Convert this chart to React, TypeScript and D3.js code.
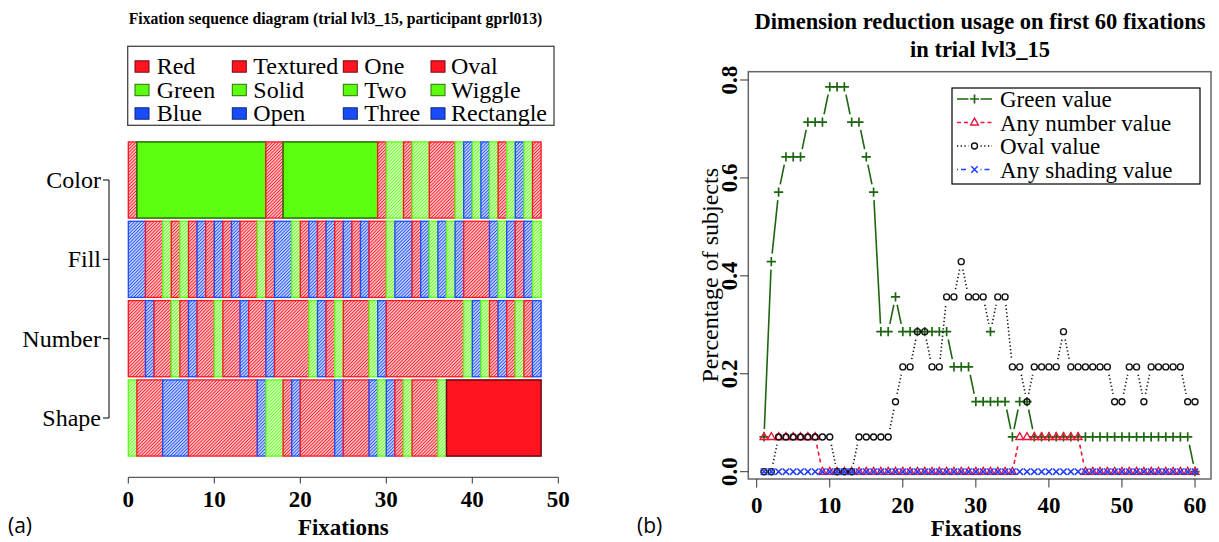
import React from "react";
import * as d3 from "d3";

// ---------- Left panel data: one code per fixation (lowercase = textured/hatched, uppercase = solid)
const rowNames = ["Color", "Fill", "Number", "Shape"];
const colorRow = "r GGGGGGGGGGGGGGG rr GGGGGGGGGGG r gg r gg rrr g b g b g r g b g r";
const fillRow = "bb rr g r g r b r b r b rr g r bb g r b r b r b r b rr g bb r b g b g b rrr b g b r b g";
const numberRow = "rr b rr g r b rr g rr b rr b rrrr g b r g rrr g b rrrrrrrrr g b g r b r g r b";
const shapeRow = "g rrr bbb rrrrrrrr b gg r b rrrr b rrr b g b r g rrr g RRRRRRRRRRR";
const sequenceRows = [colorRow, fillRow, numberRow, shapeRow];
const seqTicks = [0, 10, 20, 30, 40, 50];

const legendColumns = [
  ["Red", "Green", "Blue"],
  ["Textured", "Solid", "Open"],
  ["One", "Two", "Three"],
  ["Oval", "Wiggle", "Rectangle"],
];
const legendCodes = ["r", "g", "b"];

// ---------- Right panel data (share of subjects, fixations 1..60)
const fixTicks = [0, 10, 20, 30, 40, 50, 60];
const pctTicks = [0, 0.2, 0.4, 0.6, 0.8];
const greenValue = [
  0.071, 0.429, 0.571, 0.643, 0.643, 0.643, 0.714, 0.714, 0.714, 0.786,
  0.786, 0.786, 0.714, 0.714, 0.643, 0.571, 0.286, 0.286, 0.357, 0.286,
  0.286, 0.286, 0.286, 0.286, 0.286, 0.286, 0.214, 0.214, 0.214, 0.143,
  0.143, 0.143, 0.143, 0.143, 0.071, 0.143, 0.143, 0.071, 0.071, 0.071,
  0.071, 0.071, 0.071, 0.071, 0.071, 0.071, 0.071, 0.071, 0.071, 0.071,
  0.071, 0.071, 0.071, 0.071, 0.071, 0.071, 0.071, 0.071, 0.071, 0,
];
const numberValue = [
  0.071, 0.071, 0.071, 0.071, 0.071, 0.071, 0.071, 0.071, 0, 0,
  0, 0, 0, 0, 0, 0, 0, 0, 0, 0,
  0, 0, 0, 0, 0, 0, 0, 0, 0, 0,
  0, 0, 0, 0, 0, 0.071, 0.071, 0.071, 0.071, 0.071,
  0.071, 0.071, 0.071, 0.071, 0, 0, 0, 0, 0, 0,
  0, 0, 0, 0, 0, 0, 0, 0, 0, 0,
];
const ovalValue = [
  0, 0, 0.071, 0.071, 0.071, 0.071, 0.071, 0.071, 0.071, 0.071,
  0, 0, 0, 0.071, 0.071, 0.071, 0.071, 0.071, 0.143, 0.214,
  0.214, 0.286, 0.286, 0.214, 0.214, 0.357, 0.357, 0.429, 0.357, 0.357,
  0.357, 0.286, 0.357, 0.357, 0.214, 0.214, 0.143, 0.214, 0.214, 0.214,
  0.214, 0.286, 0.214, 0.214, 0.214, 0.214, 0.214, 0.214, 0.143, 0.143,
  0.214, 0.214, 0.143, 0.214, 0.214, 0.214, 0.214, 0.214, 0.143, 0.143,
];
const ovalPlusMarkerAt = [32];
const shadingValue = [
  0, 0, 0, 0, 0, 0, 0, 0, 0, 0,
  0, 0, 0, 0, 0, 0, 0, 0, 0, 0,
  0, 0, 0, 0, 0, 0, 0, 0, 0, 0,
  0, 0, 0, 0, 0, 0, 0, 0, 0, 0,
  0, 0, 0, 0, 0, 0, 0, 0, 0, 0,
  0, 0, 0, 0, 0, 0, 0, 0, 0, 0,
];
const seriesLabels = ["Green value", "Any number value", "Oval value", "Any shading value"];

// ---------- styles
const PAL: Record<string, string> = { r: "#ff1420", g: "#5cff10", b: "#1a4cff" };
const SERIF = "'Liberation Serif', 'Times New Roman', serif";
const SERIES = [
  { values: greenValue, color: "#1d6610", dash: "none", marker: "plus" },
  { values: numberValue, color: "#e8173a", dash: "4,3", marker: "tri" },
  { values: ovalValue, color: "#111111", dash: "1.3,2.4", marker: "circle" },
  { values: shadingValue, color: "#1f3cff", dash: "1,3,5,3", marker: "x" },
];

function runs(str: string) {
  const codes = str.replace(/ /g, "").split("");
  const out: { start: number; end: number; code: string }[] = [];
  codes.forEach((c, i) => {
    const last = out[out.length - 1];
    if (last && last.code === c) last.end = i + 1;
    else out.push({ start: i, end: i + 1, code: c });
  });
  return out;
}

function Marker({ type, x, y, color }: { type: string; x: number; y: number; color: string }) {
  const t = `translate(${x},${y})`;
  if (type === "plus")
    return <path transform={t} d="M-4.6,0H4.6M0,-4.6V4.6" stroke={color} strokeWidth={1.7} fill="none" />;
  if (type === "tri")
    return <path transform={t} d="M0,-4.3L3.9,2.5L-3.9,2.5Z" stroke={color} strokeWidth={1.4} fill="none" />;
  if (type === "circle")
    return <circle transform={t} r={3} stroke={color} strokeWidth={1.4} fill="none" />;
  return <path transform={t} d="M-3.2,-3.2L3.2,3.2M-3.2,3.2L3.2,-3.2" stroke={color} strokeWidth={1.5} fill="none" />;
}

export default function App() {
  // left panel scales
  const xL = d3.scaleLinear().domain([0, 50]).range([128.3, 558.3]);
  const yL = d3.scaleLinear().domain([1, 4]).range([418, 180]);
  const rowPos = [4, 3, 2, 1];
  const halfH = 0.48 * (yL(1) - yL(2));

  // right panel scales
  const xR = d3.scaleLinear().domain([0, 60]).range([756.7, 1195]);
  const yR = d3.scaleLinear().domain([0, 0.8]).range([471.7, 80]);
  const gap = 8;

  const segPath = (vals: number[]) => {
    let d = "";
    for (let i = 0; i < vals.length - 1; i++) {
      const x1 = xR(i + 1), y1 = yR(vals[i]), x2 = xR(i + 2), y2 = yR(vals[i + 1]);
      const dx = x2 - x1, dy = y2 - y1, len = Math.hypot(dx, dy);
      if (len <= 2 * gap) continue;
      const ux = dx / len, uy = dy / len;
      d += `M${x1 + ux * gap},${y1 + uy * gap}L${x2 - ux * gap},${y2 - uy * gap}`;
    }
    return d;
  };

  const legX = 952, legY = 88, legW = 248, legH = 96;
  const legRows = [99, 122.5, 146, 169.5];

  return (
    <svg width={1219} height={542} style={{ position: "absolute", left: 0, top: 0, background: "#fff" }}>
      <defs>
        {Object.entries(PAL).map(([k, c]) => (
          <pattern key={k} id={`hatch-${k}`} patternUnits="userSpaceOnUse" width={2.3} height={10} patternTransform="rotate(45)">
            <rect width={2.3} height={10} fill="#fff" />
            <line x1={1.15} y1={0} x2={1.15} y2={10} stroke={c} strokeWidth={1.2} />
          </pattern>
        ))}
      </defs>

      {/* ---------------- Left panel ---------------- */}
      <text x={335.5} y={24} textAnchor="middle" fontFamily={SERIF} fontWeight="bold" fontSize={15.7}>
        Fixation sequence diagram (trial lvl3_15, participant gprl013)
      </text>

      {/* legend */}
      <rect x={127.7} y={46.3} width={426.3} height={79} fill="#fff" stroke="#444" strokeWidth={1.3} />
      {legendColumns.map((col, ci) => {
        const sx = [135, 232.3, 343.3, 431][ci];
        const tx = [156.7, 253.3, 364.3, 451][ci];
        return col.map((label, ri) => {
          const cy = [66.5, 90, 113.5][ri];
          const c = PAL[legendCodes[ri]];
          return (
            <g key={`${ci}-${ri}`}>
              <rect x={sx} y={cy - 5.7} width={14} height={11.4} fill={c} stroke={d3.color(c)!.darker(2.2).toString()} strokeWidth={1} />
              <text x={tx} y={cy + 7.5} fontFamily={SERIF} fontSize={24}>{label}</text>
            </g>
          );
        });
      })}

      {/* sequence rows */}
      {sequenceRows.map((row, ri) =>
        runs(row).map((r, k) => {
          const code = r.code.toLowerCase();
          const solid = r.code !== code;
          const c = PAL[code];
          return (
            <rect
              key={`${ri}-${k}`}
              x={xL(r.start)}
              y={yL(rowPos[ri]) - halfH}
              width={xL(r.end) - xL(r.start)}
              height={2 * halfH}
              fill={solid ? c : `url(#hatch-${code})`}
              stroke={solid ? d3.color(c)!.darker(2.4).toString() : c}
              strokeWidth={solid ? 1.5 : 1.3}
            />
          );
        })
      )}

      {/* y axis (rows) */}
      <line x1={109} x2={109} y1={yL(4)} y2={yL(1)} stroke="#000" strokeWidth={1} />
      {rowNames.map((n, i) => (
        <g key={n}>
          <line x1={103} x2={109} y1={yL(rowPos[i])} y2={yL(rowPos[i])} stroke="#000" strokeWidth={1} />
          <text x={101} y={yL(rowPos[i]) + 8} textAnchor="end" fontFamily={SERIF} fontSize={24}>{n}</text>
        </g>
      ))}

      {/* x axis left */}
      <line x1={xL(0)} x2={xL(50)} y1={477.3} y2={477.3} stroke="#333" strokeWidth={1} />
      {seqTicks.map((t) => (
        <g key={t}>
          <line x1={xL(t)} x2={xL(t)} y1={477.3} y2={483.5} stroke="#333" strokeWidth={1} />
          <text x={xL(t)} y={507} textAnchor="middle" fontFamily={SERIF} fontWeight="bold" fontSize={23}>{t}</text>
        </g>
      ))}
      <text x={343.3} y={535} textAnchor="middle" fontFamily={SERIF} fontWeight="bold" fontSize={23}>Fixations</text>
      <text x={8} y={533} fontFamily="'Open Sans', 'Liberation Sans', sans-serif" fontSize={21}>(a)</text>

      {/* ---------------- Right panel ---------------- */}
      <text x={980} y={29} textAnchor="middle" fontFamily={SERIF} fontWeight="bold" fontSize={22.5}>
        Dimension reduction usage on first 60 fixations
      </text>
      <text x={980} y={57} textAnchor="middle" fontFamily={SERIF} fontWeight="bold" fontSize={22.5}>
        in trial lvl3_15
      </text>

      <rect x={748.3} y={71.7} width={462.7} height={407.3} fill="none" stroke="#666" strokeWidth={1.5} />

      {/* y axis */}
      {pctTicks.map((t) => (
        <g key={t}>
          <line x1={740} x2={748.3} y1={yR(t)} y2={yR(t)} stroke="#333" strokeWidth={1} />
          <text transform={`translate(737,${yR(t)}) rotate(-90)`} textAnchor="middle" fontFamily={SERIF} fontWeight="bold" fontSize={23}>
            {t.toFixed(1)}
          </text>
        </g>
      ))}
      <text transform={`translate(718,275.3) rotate(-90)`} textAnchor="middle" fontFamily={SERIF} fontSize={24}>
        Percentage of subjects
      </text>

      {/* x axis */}
      {fixTicks.map((t) => (
        <g key={t}>
          <line x1={xR(t)} x2={xR(t)} y1={479} y2={487.5} stroke="#333" strokeWidth={1} />
          <text x={xR(t)} y={513} textAnchor="middle" fontFamily={SERIF} fontWeight="bold" fontSize={23}>{t}</text>
        </g>
      ))}
      <text x={976} y={536} textAnchor="middle" fontFamily={SERIF} fontWeight="bold" fontSize={23}>Fixations</text>
      <text x={637} y={533} fontFamily="'Open Sans', 'Liberation Sans', sans-serif" fontSize={21}>(b)</text>

      {/* series */}
      {SERIES.map((s, si) => (
        <g key={si}>
          <path d={segPath(s.values)} stroke={s.color} strokeWidth={1.6} strokeDasharray={s.dash} fill="none" />
          {s.values.map((v, i) =>
            si === 2 && ovalPlusMarkerAt.includes(i + 1) ? (
              <Marker key={i} type="plus" x={xR(i + 1)} y={yR(v)} color={SERIES[0].color} />
            ) : (
              <Marker key={i} type={s.marker} x={xR(i + 1)} y={yR(v)} color={s.color} />
            )
          )}
        </g>
      ))}

      {/* legend */}
      <rect x={legX} y={legY} width={legW} height={legH} fill="#fff" stroke="#000" strokeWidth={1.2} />
      {SERIES.map((s, i) => (
        <g key={i}>
          <path
            d={`M957,${legRows[i]}H968.5M980.5,${legRows[i]}H992`}
            stroke={s.color}
            strokeWidth={1.6}
            strokeDasharray={s.dash}
            fill="none"
          />
          <Marker type={s.marker} x={974.5} y={legRows[i]} color={s.color} />
          <text x={1000} y={legRows[i] + 8} fontFamily={SERIF} fontSize={23}>{seriesLabels[i]}</text>
        </g>
      ))}
    </svg>
  );
}
